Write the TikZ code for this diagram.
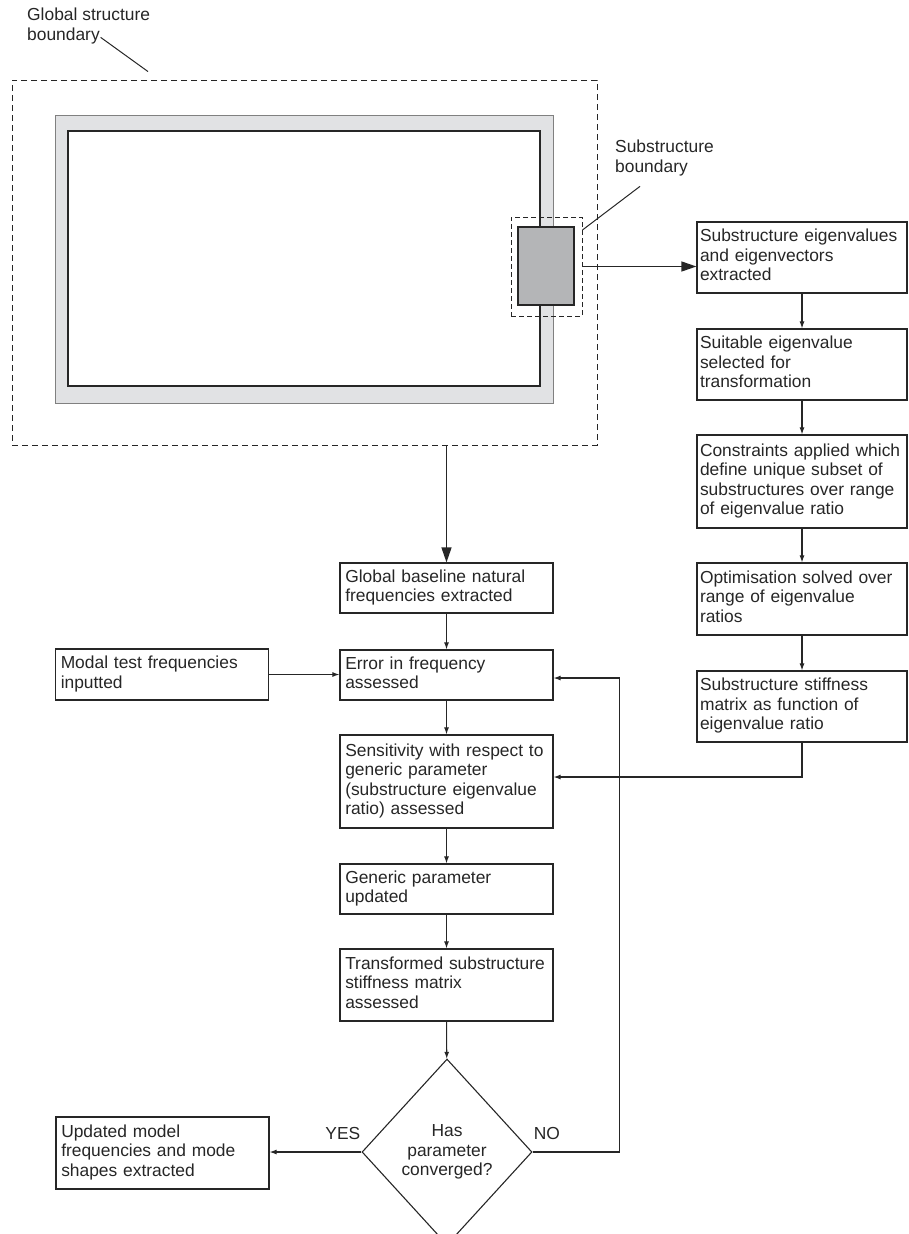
\documentclass[tikz,border=0pt]{standalone}
\usepackage{fontspec}
\setmainfont{Liberation Sans}
\usetikzlibrary{shapes.geometric,arrows.meta}
\definecolor{ink}{RGB}{38,38,38}
\definecolor{framegray}{RGB}{225,226,228}
\definecolor{subgray}{RGB}{180,181,183}

\begin{document}
\begin{tikzpicture}[x=1pt, y=-1pt, color=ink,
        box/.style = {draw, rectangle, align=left, text width=202.5pt, inner xsep=5.25pt, inner ysep=0pt, line width=1.2pt, minimum height=#1, font=\fontsize{17.4}{19.5}\selectfont, execute at begin node=\strut, execute at end node=\strut},
        rbox/.style = {box=#1, text width=204pt, inner xsep=3pt},
        decision/.style = {draw, diamond, aspect=0.914, minimum width=170pt, minimum height=186pt, inner sep=0pt, line width=1.1pt, align=center, font=\fontsize{17.4}{19.5}\selectfont},
        note/.style = {align=left, inner sep=0pt, font=\fontsize{17.4}{19.5}\selectfont, execute at begin node=\strut, execute at end node=\strut},
        boundary/.style = {draw, dash pattern=on 6pt off 4pt, line width=0.9pt, inner sep=0pt},
        arr/.style = {-{Latex[length=7pt,width=5pt]}, line width=1.1pt},
        bigarr/.style = {-{Triangle[length=15pt,width=10pt]}, line width=1.3pt}]
    \clip (0,0) rectangle (908,1234);
    \node[boundary, minimum width=585pt, minimum height=365pt] (gsb) at (304.5,262.5) {};
    \filldraw[fill=framegray, draw=gray, line width=0.8pt] (55,115) rectangle (553,403);
    \filldraw[fill=white, line width=1.2pt] (68,131) rectangle (540,386);
    \node[draw, fill=subgray, line width=1.4pt, minimum width=56pt, minimum height=78pt, inner sep=0pt] (sub) at (546,266) {};
    \node[boundary, dash pattern=on 5pt off 3pt, minimum width=71pt, minimum height=99pt] (sbd) at (546.5,266.5) {};
    \node[note, anchor=north west] (gsl) at (27,8) {Global structure\\boundary};
    \node[note, anchor=north west] (sbl) at (615,140) {Substructure\\boundary};
    \node[rbox=71pt] (eig) at (802,257.5) {Substructure eigenvalues\\and eigenvectors\\extracted};
    \node[rbox=71pt] (sel) at (802,364.5) {Suitable eigenvalue\\selected for\\transformation};
    \node[rbox=93pt] (cons) at (802,481.5) {Constraints applied which\\define unique subset of\\substructures over range\\of eigenvalue ratio};
    \node[rbox=72pt] (opt) at (802,599) {Optimisation solved over\\range of eigenvalue\\ratios};
    \node[rbox=71pt] (stiff) at (802,706.5) {Substructure stiffness\\matrix as function of\\eigenvalue ratio};
    \node[box=50pt] (glob) at (446.5,588) {Global baseline natural\\frequencies extracted};
    \node[box=51pt] (modal) at (162,674.5) {Modal test frequencies\\inputted};
    \node[box=50pt] (err) at (446.5,675) {Error in frequency\\assessed};
    \node[box=93pt] (sens) at (446.5,781.5) {Sensitivity with respect to\\generic parameter\\(substructure eigenvalue\\ratio) assessed};
    \node[box=50pt] (gen) at (446.5,889) {Generic parameter\\updated};
    \node[box=72pt] (trans) at (446.5,985) {Transformed substructure\\stiffness matrix\\assessed};
    \node[decision] (dec) at (447,1152) {Has\\parameter\\converged?};
    \node[box=72pt] (upd) at (162.5,1153) {Updated model\\frequencies and mode\\shapes extracted};
    \node[note, anchor=south east, inner sep=1pt] (yes) at ([yshift=5pt]dec.west) {YES};
    \node[note, anchor=south west, inner sep=1pt] (no) at ([yshift=5pt]dec.east) {NO};
    \draw[line width=1pt] ([xshift=-49.6pt,yshift=9pt]gsl.south east) -- ([xshift=-156.5pt,yshift=8pt]gsb.north);
    \draw[line width=1pt] ([xshift=25pt,yshift=-8pt]sbl.south west) -- ([yshift=36.5pt]sbd.east);
    \draw[bigarr] (sbd.east) -- (sbd.east -| eig.west);
    \draw[bigarr] (glob.north |- gsb.south) -- (glob.north);
    \draw[arr] (eig) -- (sel);
    \draw[arr] (sel) -- (cons);
    \draw[arr] (cons) -- (opt);
    \draw[arr] (opt) -- (stiff);
    \draw[arr] (stiff.south) |- ([yshift=4.5pt]sens.east);
    \draw[arr] (glob) -- (err);
    \draw[arr] (modal.east) -- (modal.east -| err.west);
    \draw[arr] (err) -- (sens);
    \draw[arr] (sens) -- (gen);
    \draw[arr] (gen) -- (trans);
    \draw[arr] (trans) -- (dec);
    \draw[arr] (dec.west) -- (dec.west -| upd.east);
    \draw[arr] (dec.east) -| ([xshift=66pt,yshift=-3pt]err.east) -- ([yshift=-3pt]err.east);
\end{tikzpicture}
\end{document}
